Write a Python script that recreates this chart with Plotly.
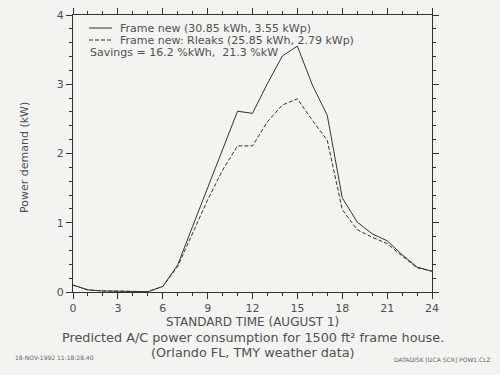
import plotly.graph_objects as go

hours = list(range(25))
frame_new = [0.10, 0.03, 0.015, 0.01, 0.0, 0.005, 0.08, 0.39, 0.95, 1.50, 2.05, 2.61, 2.58,
             3.01, 3.41, 3.55, 2.99, 2.55, 1.36, 1.01, 0.84, 0.74, 0.54, 0.36, 0.30]
frame_rleaks = [0.10, 0.03, 0.015, 0.01, 0.0, 0.005, 0.08, 0.37, 0.85, 1.33, 1.76, 2.11, 2.11,
                2.46, 2.70, 2.79, 2.48, 2.19, 1.19, 0.90, 0.79, 0.70, 0.52, 0.35, 0.30]
x_ticks = [0, 3, 6, 9, 12, 15, 18, 21, 24]
y_ticks = [0, 1, 2, 3, 4]
legend_labels = ["Frame new (30.85 kWh, 3.55 kWp)",
                 "Frame new: Rleaks (25.85 kWh, 2.79 kWp)"]
savings_text = "Savings = 16.2 %kWh,  21.3 %kW"

ink = "#333333"
txt = "#505050"
font = "DejaVu Sans"
bg = "#f3f3f1"

fig = go.Figure()
fig.add_trace(go.Scatter(x=hours, y=frame_new, mode="lines",
                         line=dict(color=ink, width=1), showlegend=False))
fig.add_trace(go.Scatter(x=hours, y=frame_rleaks, mode="lines",
                         line=dict(color=ink, width=1, dash="4px,2px"), showlegend=False))

axis_common = dict(showgrid=False, zeroline=False, showline=True, linecolor=ink,
                   linewidth=1, mirror="ticks", ticks="outside", tickcolor=ink,
                   ticklen=6, tickwidth=1, automargin=False,
                   tickfont=dict(family=font, size=11, color=txt))
fig.update_xaxes(range=[0, 24], tickvals=x_ticks, ticktext=[str(v) for v in x_ticks],
                 minor=dict(dtick=1, ticks="outside", ticklen=3, tickcolor=ink, tickwidth=1),
                 **axis_common)
fig.update_yaxes(range=[0, 4], tickvals=y_ticks, ticktext=[str(v) for v in y_ticks],
                 minor=dict(dtick=0.2, ticks="outside", ticklen=3, tickcolor=ink, tickwidth=1),
                 **axis_common)

def note(x, y, text, size, xanchor="center", yanchor="middle", color=txt, angle=0):
    fig.add_annotation(xref="paper", yref="paper", x=x, y=y, text=text, showarrow=False,
                       xanchor=xanchor, yanchor=yanchor, textangle=angle,
                       font=dict(family=font, size=size, color=color))

# Axis titles
note(0.5, -0.1083, "STANDARD TIME (AUGUST 1)", 12)
note(-0.1337, 0.4838, "Power demand (kW)", 11, angle=-90)

# Legend block
legend_rows = [(0.953, "solid"), (0.9097, "4px,2px")]
for (yy, dash), label in zip(legend_rows, legend_labels):
    fig.add_shape(type="line", xref="paper", yref="paper", x0=0.0446, x1=0.1086, y0=yy, y1=yy,
                  line=dict(color=ink, width=1, dash=dash))
    note(0.125, yy, label, 11, xanchor="left")
note(0.041, 0.8664, savings_text, 11, xanchor="left")

# Caption
note(0.5, -0.166, "Predicted A/C power consumption for 1500 ft² frame house.", 12.8)
note(0.5, -0.217, "(Orlando FL, TMY weather data)", 12.8)
note(-0.167, -0.235, "18-NOV-1992 11:18:28.40", 6, xanchor="left", color="#666")
note(1.170, -0.245, "DATADISK [DCA SCR] POW1.CLZ", 6, xanchor="right", color="#666")

fig.update_layout(width=500, height=375, margin=dict(l=73, r=68, t=15, b=83),
                  paper_bgcolor=bg, plot_bgcolor=bg, showlegend=False)
fig.write_html("out.html", config={"displayModeBar": False},
               post_script="document.body.style.margin='0';document.body.style.background='%s';" % bg)
